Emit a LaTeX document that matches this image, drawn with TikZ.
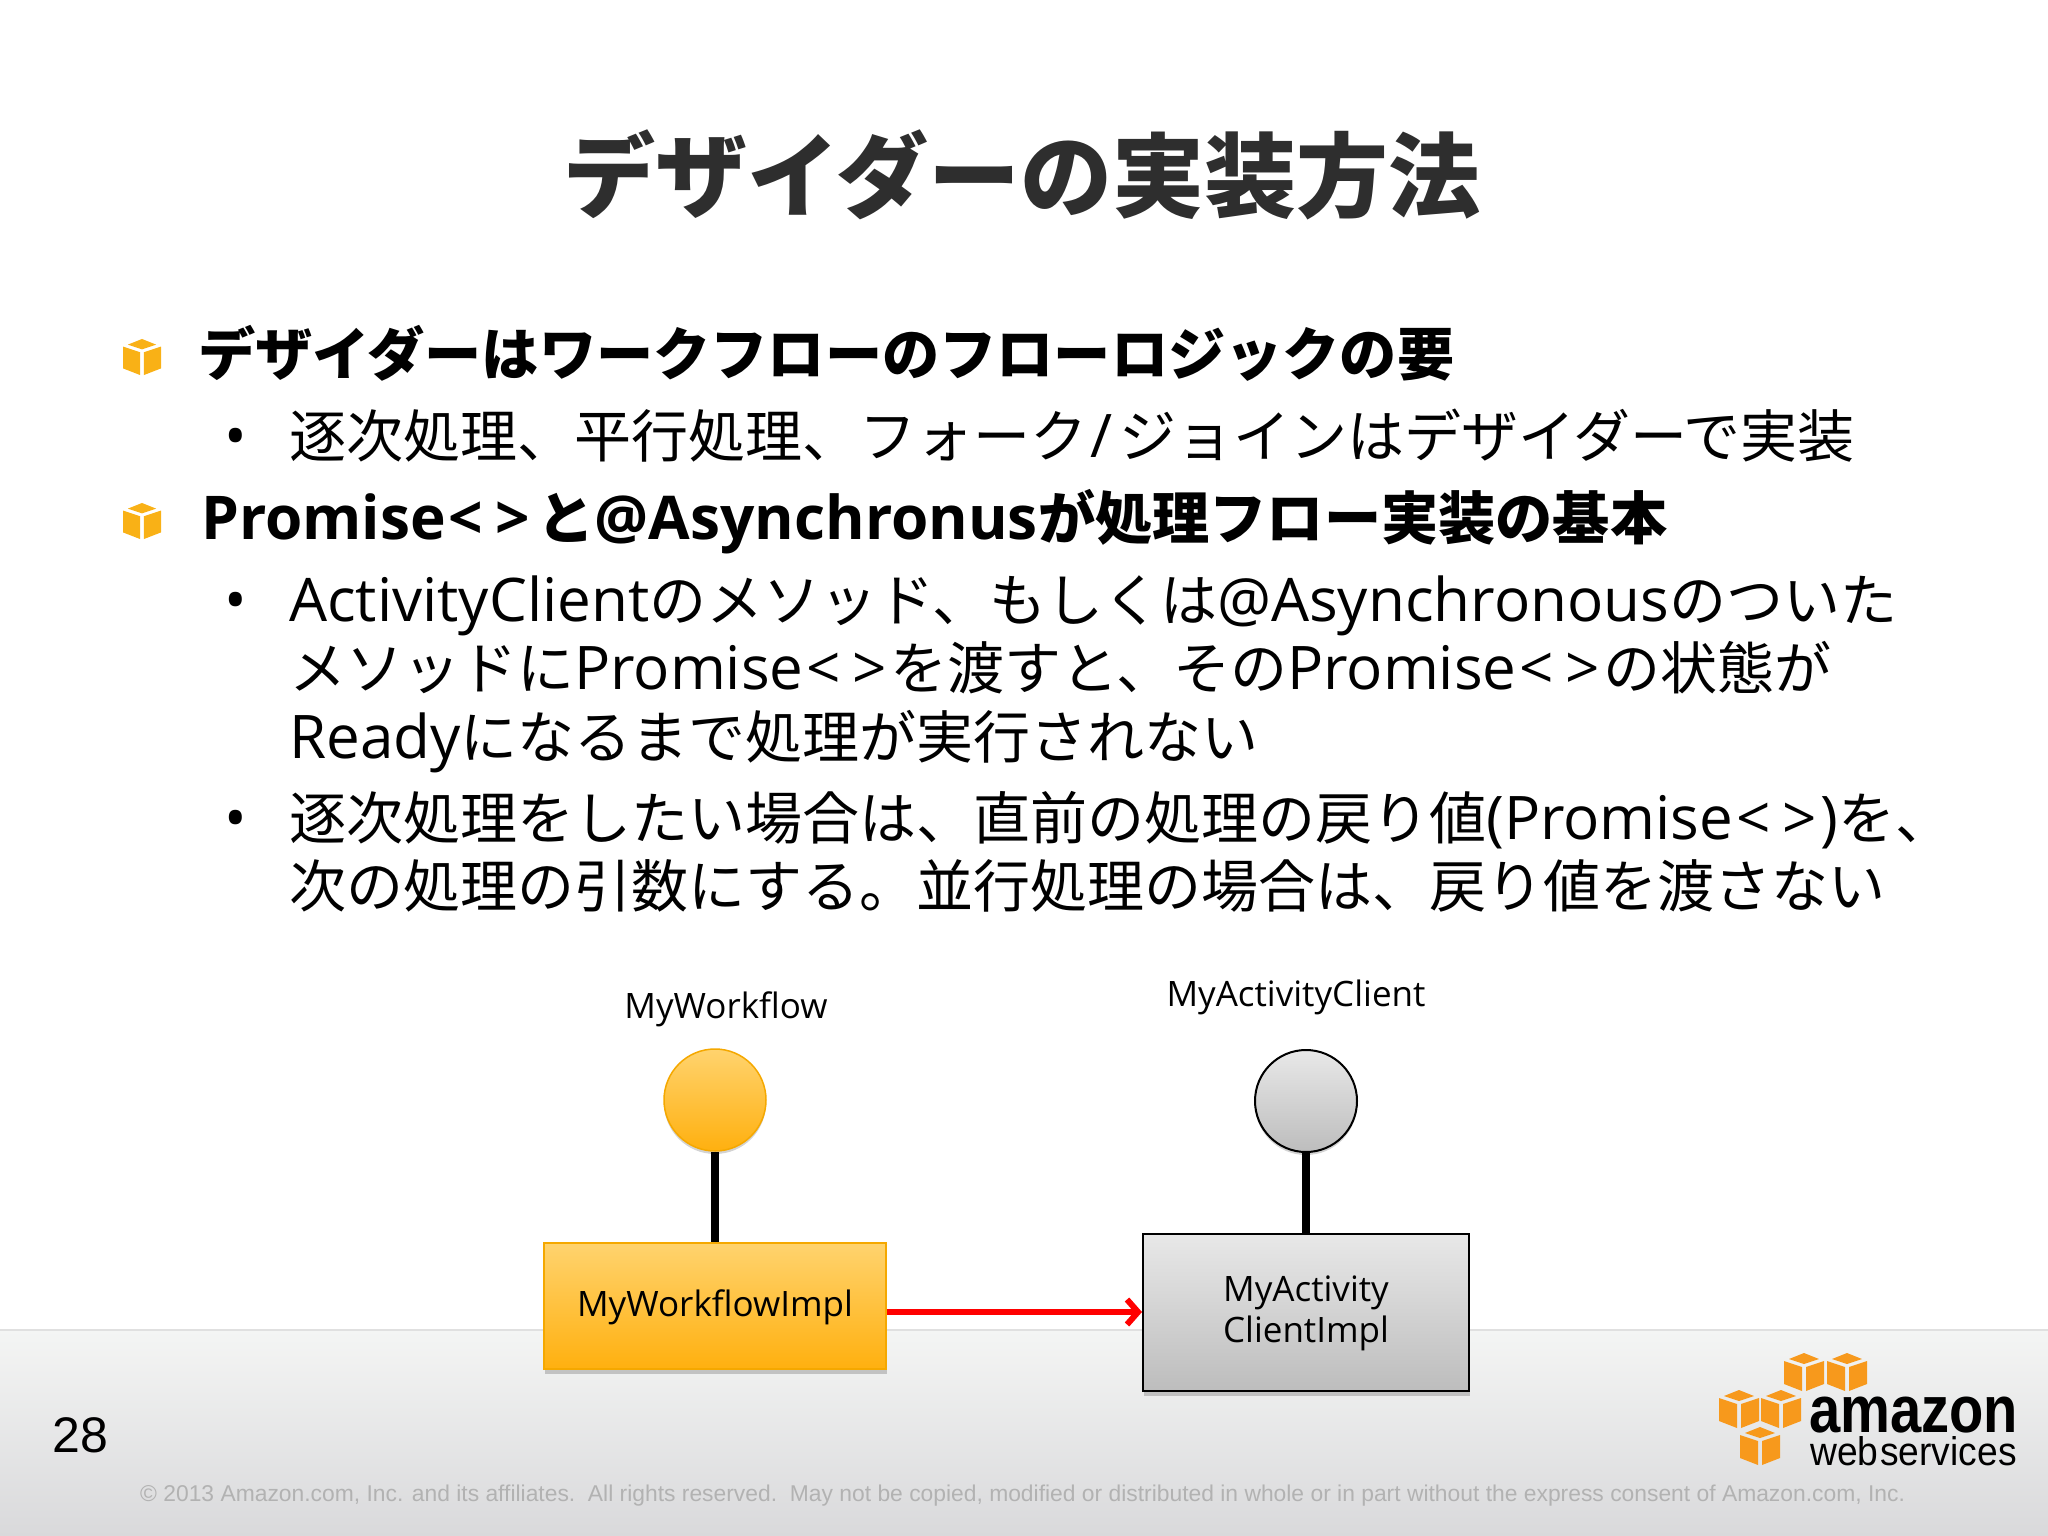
\documentclass[tikz,border=0pt]{standalone}
\usepackage{fontspec}
\usepackage{tikz}
\usetikzlibrary{arrows.meta,shadows}
\setmainfont{Noto Sans CJK JP}
\newfontfamily\lat[Scale=1.055]{Open Sans}
\newfontfamily\labelfont{Open Sans}
\newfontfamily\arial{Liberation Sans}
\newcommand{\la}[1]{{\lat #1}}
\newcommand{\ang}{{\lat\kern.05em<\kern.2em>\kern.05em}}
\newcommand{\fsz}[1]{\fontsize{#1}{#1}\selectfont}
\newcommand{\cube}[4]{\begin{scope}[shift={(#1,#2)},scale=#3]
  \fill[#4] (0,-19) -- (15,-13) -- (0,-8) -- (-15,-13) -- cycle;
  \fill[#4] (-20,-11) -- (-2,-5) -- (-2,19) -- (-20,12) -- cycle;
  \fill[#4] (20,-11) -- (2,-5) -- (2,19) -- (20,12) -- cycle;
\end{scope}}
\definecolor{awsorange}{HTML}{F7991C}
\definecolor{bulletorange}{HTML}{F9B116}
\definecolor{titlegray}{HTML}{2E2E2E}
\definecolor{noticegray}{HTML}{B2B2B2}
\definecolor{ambertop}{HTML}{FFD36E}
\definecolor{amberbot}{HTML}{FFB00F}
\definecolor{ambered}{HTML}{F5A800}
\definecolor{silvertop}{HTML}{E8E8E8}
\definecolor{silverbot}{HTML}{BDBDBD}
\definecolor{bandtop}{HTML}{F4F5F4}
\definecolor{bandbot}{HTML}{D9D9DB}

\begin{document}
\begin{tikzpicture}[x=1pt,y=-1pt,
  line/.style={anchor=base west, inner sep=0pt, text=black},
  title/.style={anchor=base, inner sep=0pt, text=titlegray, font=\fsz{92}\bfseries},
  head/.style={line, font=\fsz{57.2}\bfseries},
  body/.style={line, font=\fsz{57}},
  lbl/.style={anchor=base, inner sep=0pt, font=\labelfont\fsz{35}},
  ifc/.style={circle, inner sep=0pt, minimum size=102pt, drop shadow={shadow xshift=0pt, shadow yshift=-3pt, opacity=.35}},
  impl/.style={rectangle, inner sep=0pt, drop shadow={shadow xshift=1pt, shadow yshift=-5pt, opacity=.4}},
  amber/.style={draw=ambered, line width=1.5pt, top color=ambertop, bottom color=amberbot},
  silver/.style={draw=black, line width=2pt, top color=silvertop, bottom color=silverbot},
  stem/.style={draw=black, line width=8pt},
  arr/.style={draw=red, line width=6pt, -{Straight Barb[length=11pt,width=25pt]}},
  ]
\useasboundingbox (0,0) rectangle (2048,1536);

\shade[top color=bandtop, bottom color=bandbot] (0,1330) rectangle (2048,1536);
\draw[line width=1.5pt, color=black!12] (0,1330) -- (2048,1330);

\path (1022,210) node[title](ttl){デザイダーの実装方法};

\cube{142}{357}{.95}{bulletorange}
\path (198,375) node[head](h1){デザイダーはワークフローのフローロジックの要};
\path (224,457) node[body](b1){\la{•}};
\path (289,457) node[body](l1){逐次処理、平行処理、フォーク\kern.06em\la{/}\kern.12em ジョインはデザイダーで実装};
\cube{142}{521}{.95}{bulletorange}
\path (201,539) node[head](h2){\la{Promise}\ang\kern.08em と\la{@Asynchronus}が処理フロー実装の基本};
\path (224,621) node[body](b2){\la{•}};
\path (289,621) node[body](l2){\la{ActivityClient}のメソッド、もしくは\la{@Asynchronous}のついた};
\path (289,689) node[body](l3){メソッドに\la{Promise}\ang を渡すと、その\la{Promise}\ang の状態が};
\path (289,758) node[body](l4){\la{Ready}になるまで処理が実行されない};
\path (224,839) node[body](b3){\la{•}};
\path (289,839) node[body](l5){逐次処理をしたい場合は、直前の処理の戻り値\la{(Promise}\ang\la{)}を、};
\path (289,907) node[body](l6){次の処理の引数にする。並行処理の場合は、戻り値を渡さない};

\path (726,1018) node[lbl](wfl){MyWorkflow};
\path (1296,1006) node[lbl](acl){MyActivityClient};

\path (715,1100) node[ifc, amber](wf){};
\path (1306,1101) node[ifc, silver](ac){};
\path (715,1306) node[impl, amber, minimum width=342pt, minimum height=126pt](wfi){};
\path (1306,1312) node[impl, silver, minimum width=326pt, minimum height=157pt](aci){};
\path (715,1316) node[lbl](wfit){MyWorkflowImpl};
\path (1306,1301) node[lbl](acit1){MyActivity};
\path (1306,1342) node[lbl](acit2){ClientImpl};

\draw[stem] (wf) -- (wfi);
\draw[stem] (ac) -- (aci);
\draw[arr] (wfi.east |- aci.west) -- (aci.west);

\path (52,1452) node[line, font=\arial\fsz{50}](pg){28};
\path (140,1501) node[line, text=noticegray, font=\arial\fsz{22.85}](ntc){© 2013 Amazon.com, Inc. and its affiliates.\ \ All rights reserved.\ \ May not be copied, modified or distributed in whole or in part without the express consent of Amazon.com, Inc.};

\cube{1804}{1372}{1}{awsorange}
\cube{1847}{1372}{1}{awsorange}
\cube{1739}{1409}{1}{awsorange}
\cube{1781}{1409}{1}{awsorange}
\cube{1760}{1446}{1}{awsorange}
\path (1809,1432) node[line, font=\arial\fsz{66}\bfseries, xscale=.85](amz){amazon};
\path (1810,1465) node[line, font=\arial\fsz{40}, xscale=.93](aws){web\hspace{2pt}services};
\end{tikzpicture}
\end{document}
